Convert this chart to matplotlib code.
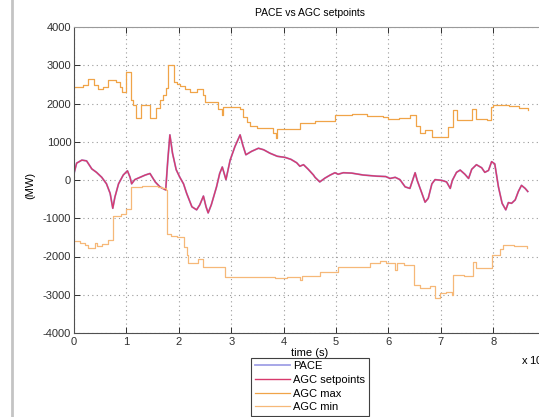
import matplotlib
matplotlib.use("Agg")
import matplotlib.pyplot as plt
from matplotlib.lines import Line2D
import numpy as np

plt.rcParams['font.family'] = ['Liberation Sans', 'DejaVu Sans']
plt.rcParams['axes.unicode_minus'] = False

# time in units of 1e4 s
max_t = [0.00, 0.18, 0.27, 0.38, 0.46, 0.56, 0.64, 0.81, 0.88, 0.92, 0.99, 1.09, 1.13,
         1.18, 1.27, 1.45, 1.56, 1.64, 1.69, 1.75, 1.80, 1.91, 1.96, 2.02, 2.12, 2.21,
         2.34, 2.46, 2.50, 2.75, 2.82, 2.84, 3.17, 3.22, 3.30, 3.36, 3.49, 3.80, 3.85,
         3.88, 4.31, 4.60, 4.98, 5.30, 5.60, 5.90, 6.00, 6.20, 6.41, 6.52, 6.60, 6.70,
         6.84, 7.14, 7.24, 7.30, 7.59, 7.68, 7.88, 7.95, 8.00, 8.30, 8.50, 8.67]
max_v = [2430, 2480, 2640, 2480, 2370, 2430, 2610, 2560, 2430, 2290, 2830, 2090, 1960,
         1610, 1960, 1610, 1880, 2090, 2220, 2400, 3000, 2570, 2500, 2450, 2380, 2300,
         2380, 2220, 2030, 1850, 1700, 1900, 1850, 1650, 1520, 1400, 1350, 1220, 1090,
         1330, 1500, 1540, 1700, 1720, 1680, 1660, 1600, 1620, 1700, 1400, 1220, 1300,
         1130, 1380, 1830, 1570, 1850, 1600, 1570, 1900, 1960, 1930, 1870, 1820]

min_t = [0.00, 0.11, 0.21, 0.27, 0.40, 0.43, 0.53, 0.65, 0.74, 0.90, 0.99, 1.09, 1.30,
         1.60, 1.68, 1.75, 1.78, 1.85, 1.96, 2.09, 2.15, 2.18, 2.37, 2.47, 2.88, 3.84,
         4.06, 4.31, 4.35, 4.69, 5.04, 5.65, 5.84, 5.95, 6.13, 6.16, 6.30, 6.48, 6.60,
         6.79, 6.89, 6.98, 7.10, 7.21, 7.24, 7.45, 7.62, 7.68, 7.97, 8.05, 8.13, 8.19,
         8.40, 8.64]
min_v = [-1600, -1650, -1700, -1770, -1650, -1720, -1680, -1570, -950, -900, -750, -180,
         -150, -170, -220, -260, -1400, -1460, -1490, -1740, -1960, -2180, -2070, -2270,
         -2530, -2560, -2540, -2620, -2500, -2400, -2270, -2180, -2120, -2160, -2350,
         -2180, -2230, -2750, -2830, -2780, -3090, -2960, -2940, -3000, -2480, -2500,
         -2140, -2310, -1960, -1950, -1810, -1700, -1720, -1790]

sp_t = [0.00, 0.05, 0.15, 0.24, 0.34, 0.43, 0.53, 0.62, 0.69, 0.74, 0.78, 0.85, 0.94,
        1.02, 1.07, 1.10, 1.16, 1.26, 1.36, 1.45, 1.55, 1.64, 1.75, 1.79, 1.83, 1.88,
        1.95, 2.02, 2.09, 2.15, 2.25, 2.34, 2.40, 2.47, 2.52, 2.56, 2.62, 2.72, 2.78,
        2.83, 2.90, 2.98, 3.07, 3.17, 3.22, 3.28, 3.39, 3.52, 3.62, 3.74, 3.88, 4.03,
        4.14, 4.25, 4.31, 4.38, 4.47, 4.57, 4.60, 4.69, 4.79, 4.89, 4.98, 5.04, 5.14,
        5.30, 5.52, 5.78, 5.95, 6.03, 6.13, 6.22, 6.32, 6.41, 6.51, 6.55, 6.64, 6.70,
        6.76, 6.83, 6.89, 7.02, 7.11, 7.18, 7.22, 7.30, 7.37, 7.46, 7.53, 7.59, 7.68,
        7.78, 7.84, 7.91, 7.97, 8.03, 8.10, 8.17, 8.24, 8.29, 8.35, 8.42, 8.48, 8.54,
        8.61, 8.66]
sp_v = [170, 440, 520, 500, 290, 200, 70, -100, -350, -740, -450, -100, 130,
        240, 70, -100, 10, 70, 130, 170, -50, -180, -260, 520, 1180, 700,
        270, 70, -100, -350, -700, -780, -650, -420, -700, -860, -650, -180, 170,
        340, 10, 520, 870, 1180, 920, 660, 750, 830, 790, 700, 620, 590,
        540, 450, 360, 400, 280, 130, 70, -50, 50, 130, 190, 150, 190,
        180, 130, 100, 90, 40, 70, 10, -180, -220, 190, -10, -350, -580,
        -480, -100, 10, -10, -50, -220, -10, 200, 260, 150, 40, 280, 400,
        320, 200, 250, 480, 420, -180, -610, -780, -590, -610, -520, -300, -140,
        -220, -300]
# PACE lies under the setpoint trace
pace_t = list(sp_t)
pace_v = list(sp_v)

fig = plt.figure(figsize=(5.39, 4.17), dpi=100)
ax = fig.add_axes([74/539, 1-333/417, (545.6-74)/539, 306/417])

l1, = ax.plot(pace_t, pace_v, color="#a0a0e6", lw=1.3, label="PACE")
l2, = ax.plot(sp_t, sp_v, color="#d83a6c", lw=1.0, label="AGC setpoints")
l3, = ax.step(max_t, max_v, where="post", color="#f0a448", lw=0.9, label="AGC max")
l4, = ax.step(min_t, min_v, where="post", color="#f6b878", lw=0.9, label="AGC min")

ax.set_xlim(0, 9)
ax.set_ylim(-4000, 4000)
ax.set_xticks(np.arange(0, 10, 1))
ax.set_xticklabels([str(i) for i in range(9)] + [""])
ax.set_yticks(np.arange(-4000, 4001, 1000))
ax.grid(True, linestyle=(0, (1, 3)), color="#9a9a9a", lw=0.8)
ax.tick_params(direction="in", top=True, right=True, length=4, width=0.7,
               labelsize=8, pad=3, colors="#303030")
ax.tick_params(axis="y", pad=2)
for s in ax.spines.values():
    s.set_color("#505050")
    s.set_linewidth(0.8)
ax.spines["top"].set_color("#9a9a9a")

fig.text(310/539, 1-13/417, "PACE vs AGC setpoints", ha="center", va="center", fontsize=7.5)
fig.text(310/539, 1-356/417, "time (s)", ha="center", va="baseline", fontsize=8)
fig.text(30/539, 1-185/417, "(MW)", ha="center", va="center", rotation=90, fontsize=8)
fig.text(521/539, 1-360/417, r"x 10$^{4}$", ha="left", va="center", fontsize=8)

leg = fig.legend(handles=[l1, l2, l3, l4], loc="upper center",
                 bbox_to_anchor=(310/539, 1-358/417), fontsize=8, fancybox=False,
                 edgecolor="#404040", framealpha=1, handlelength=3.2,
                 labelspacing=0.33, borderpad=0.3, handletextpad=0.3,
                 borderaxespad=0)
leg.get_frame().set_linewidth(0.8)

fig.add_artist(Line2D([11.5/539, 11.5/539], [0, 1], color="#c4c4c4", lw=2.0))

fig.savefig("out.png", dpi=100)
